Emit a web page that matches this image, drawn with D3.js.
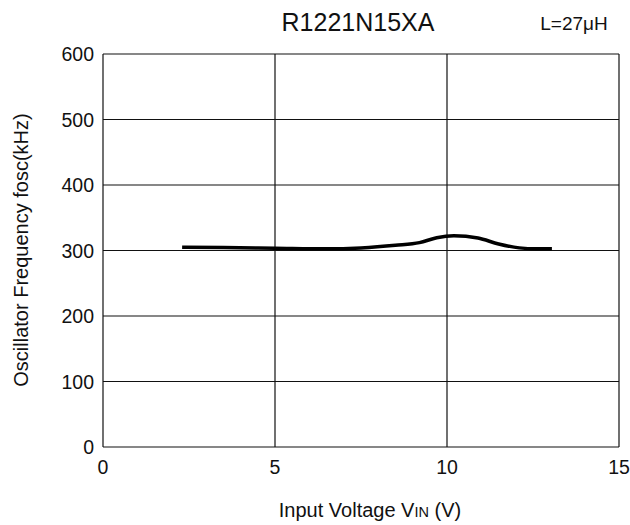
<!DOCTYPE html>
<html><head><meta charset="utf-8">
<script src="https://cdn.jsdelivr.net/npm/d3@7"></script>
<style>body{margin:0;background:#fff}svg{display:block}text{font-family:"Liberation Sans",Arial,sans-serif;fill:#111}</style>
</head><body>
<svg id="c" width="630" height="525"></svg>
<script>
const xTicks = [0, 5, 10, 15];
const yTicks = [0, 100, 200, 300, 400, 500, 600];
const vin = [2.3, 3.5, 5, 6.5, 7.5, 8.5, 9.2, 9.7, 10.2, 10.9, 11.5, 12.1, 12.6, 13.05];
const fosc = [305, 304.5, 303.5, 302.5, 304, 308, 312, 319.5, 322.5, 319, 310, 304, 302.5, 302.5];

const m = {l:103, r:619, t:54, b:447};
const x = d3.scaleLinear().domain([0,15]).range([m.l, m.r]);
const y = d3.scaleLinear().domain([0,600]).range([m.b, m.t]);
const svg = d3.select("#c");

const g = svg.append("g");
g.selectAll("line.v").data(xTicks).join("line")
  .attr("x1", d=>x(d)).attr("x2", d=>x(d)).attr("y1", m.t).attr("y2", m.b)
  .attr("stroke", "#111").attr("stroke-width", 1.2);
g.selectAll("line.h").data(yTicks).join("line")
  .attr("y1", d=>y(d)).attr("y2", d=>y(d)).attr("x1", m.l).attr("x2", m.r)
  .attr("stroke", "#111").attr("stroke-width", 1.2);

svg.selectAll("text.xt").data(xTicks).join("text")
  .attr("x", d=>x(d)).attr("y", 474).attr("text-anchor","middle")
  .attr("font-size", 19.5).text(d=>d);
svg.selectAll("text.yt").data(yTicks).join("text")
  .attr("x", 94).attr("y", d=>y(d)+7).attr("text-anchor","end")
  .attr("font-size", 19.5).text(d=>d);

const line = d3.line().x((d,i)=>x(vin[i])).y(d=>y(d)).curve(d3.curveMonotoneX);
svg.append("path").attr("d", line(fosc)).attr("fill","none")
  .attr("stroke","#000").attr("stroke-width",3.5);

svg.append("text").attr("x", 358).attr("y", 31).attr("text-anchor","middle")
  .attr("font-size", 25).text("R1221N15XA");
svg.append("text").attr("x", 574).attr("y", 30).attr("text-anchor","middle")
  .attr("font-size", 19).text("L=27μH");

const xl = svg.append("text").attr("x", 370).attr("y", 517).attr("text-anchor","middle").attr("font-size", 20);
xl.append("tspan").text("Input Voltage V");
xl.append("tspan").attr("font-size", 14.5).text("IN");
xl.append("tspan").text(" (V)");

svg.append("text").attr("transform","translate(28,250) rotate(-90)")
  .attr("text-anchor","middle").attr("font-size", 20).text("Oscillator Frequency fosc(kHz)");
</script>
</body></html>
